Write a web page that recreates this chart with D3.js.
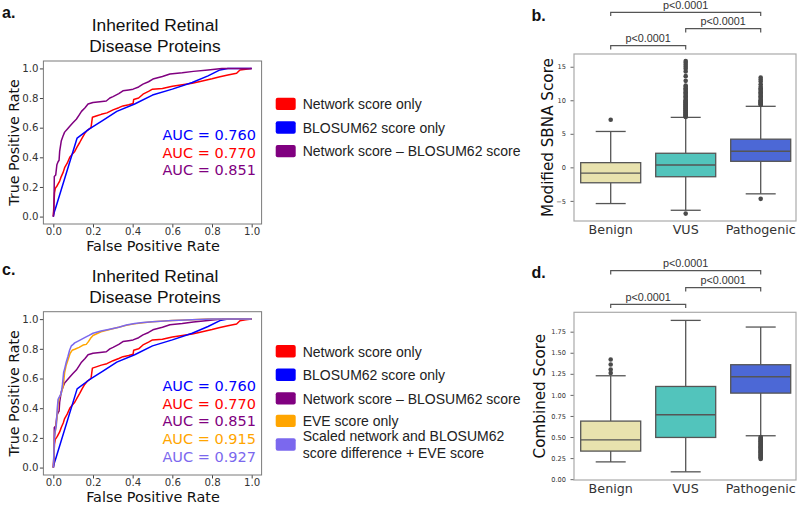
<!DOCTYPE html>
<html>
<head>
<meta charset="utf-8">
<script src="https://cdn.jsdelivr.net/npm/d3@7"></script>
<style>
  body { margin: 0; background: #fff; }
  svg { display: block; }
  .tick-text { font-family: "DejaVu Sans", sans-serif; fill: #333; }
  .axis-title { font-family: "DejaVu Sans", sans-serif; fill: #111; }
  .panel-title { font-family: "Liberation Sans", Arial, sans-serif; font-size: 17.4px; fill: #111; }
  .panel-tag { font-family: "Liberation Sans", Arial, sans-serif; font-size: 16px; font-weight: bold; fill: #111; }
  .legend-text { font-family: "Liberation Sans", Arial, sans-serif; font-size: 14px; fill: #222; }
  .p-text { font-family: "Liberation Sans", Arial, sans-serif; font-size: 10.8px; fill: #333; }
  .auc-text { font-family: "DejaVu Sans", sans-serif; font-size: 14.5px; }
</style>
</head>
<body>
<svg id="fig" width="800" height="505"></svg>
<script>
// ── DATA ────────────────────────────────────────────────────────────────

const rateTicks = [0, 0.2, 0.4, 0.6, 0.8, 1.0];

// ROC curves as [false positive rate, true positive rate]
const networkRoc = [[0,0],[0.003,0.08],[0.006,0.16],[0.01,0.19],[0.02,0.21],[0.032,0.24],[0.04,0.27],[0.05,0.3],[0.057,0.33],[0.07,0.36],[0.083,0.4],[0.095,0.42],[0.108,0.44],[0.12,0.47],[0.133,0.5],[0.145,0.53],[0.158,0.56],[0.17,0.58],[0.19,0.6],[0.197,0.67],[0.22,0.68],[0.242,0.69],[0.27,0.7],[0.301,0.72],[0.33,0.735],[0.351,0.747],[0.38,0.755],[0.402,0.763],[0.405,0.79],[0.43,0.8],[0.452,0.826],[0.48,0.845],[0.5,0.86],[0.55,0.865],[0.6,0.88],[0.65,0.89],[0.7,0.9],[0.74,0.912],[0.8,0.93],[0.84,0.944],[0.88,0.955],[0.924,0.967],[0.941,0.989],[0.97,0.995],[1,1]];
const blosumRoc = [[0,0],[0.005,0.03],[0.012,0.06],[0.12,0.53],[0.18,0.59],[0.25,0.65],[0.32,0.71],[0.41,0.76],[0.5,0.82],[0.6,0.86],[0.7,0.905],[0.78,0.95],[0.84,0.99],[0.88,1],[1,1]];
const diffRoc = [[0,0],[0.003,0.05],[0.005,0.27],[0.012,0.28],[0.018,0.35],[0.024,0.37],[0.029,0.38],[0.032,0.44],[0.04,0.51],[0.048,0.54],[0.057,0.57],[0.07,0.59],[0.083,0.61],[0.1,0.635],[0.116,0.657],[0.13,0.685],[0.142,0.71],[0.16,0.735],[0.175,0.76],[0.2,0.77],[0.235,0.775],[0.267,0.78],[0.285,0.8],[0.301,0.81],[0.33,0.83],[0.351,0.849],[0.38,0.855],[0.402,0.86],[0.43,0.875],[0.452,0.894],[0.48,0.91],[0.502,0.928],[0.55,0.945],[0.588,0.962],[0.65,0.97],[0.706,0.98],[0.78,0.99],[0.85,1],[1,1]];
const eveRoc = [[0,0],[0.003,0.08],[0.006,0.21],[0.012,0.26],[0.018,0.33],[0.024,0.43],[0.03,0.47],[0.04,0.5],[0.05,0.55],[0.057,0.64],[0.065,0.69],[0.075,0.73],[0.085,0.77],[0.095,0.79],[0.108,0.797],[0.13,0.81],[0.15,0.825],[0.166,0.83],[0.178,0.85],[0.19,0.875],[0.2,0.89],[0.24,0.915],[0.284,0.93],[0.33,0.945],[0.368,0.958],[0.41,0.968],[0.452,0.976],[0.5,0.982],[0.6,0.99],[0.7,0.996],[0.78,1],[1,1]];
const combinedRoc = [[0,0],[0.003,0.1],[0.006,0.2],[0.01,0.25],[0.015,0.28],[0.02,0.4],[0.024,0.46],[0.032,0.48],[0.04,0.5],[0.046,0.56],[0.052,0.64],[0.058,0.67],[0.065,0.71],[0.074,0.75],[0.082,0.79],[0.091,0.82],[0.1,0.83],[0.108,0.84],[0.13,0.855],[0.158,0.875],[0.18,0.89],[0.2,0.905],[0.24,0.92],[0.284,0.932],[0.33,0.945],[0.368,0.96],[0.41,0.97],[0.452,0.977],[0.5,0.982],[0.6,0.99],[0.7,0.995],[0.8,1],[1,1]];

const rocLabels = ["Network score only", "BLOSUM62 score only", "Network score \u2013 BLOSUM62 score", "EVE score only", "Scaled network and BLOSUM62|score difference + EVE score"];
const rocColors = ["#ff0000", "#0000ff", "#800080", "#ffa500", "#7b68ee"];
const rocAuc = ["0.770", "0.760", "0.851", "0.915", "0.927"];
const aucOrder = [1, 0, 2, 3, 4]; // order the AUC texts are stacked in

const categories = ["Benign", "VUS", "Pathogenic"];
const boxColors = ["#e8e2ae", "#52c4bc", "#4c68d6"];

// modified SBNA score (panel b)
const sbnaTicks = [-5, 0, 5, 10, 15];
const sbnaLow = [-5.4, -6.4, -3.95];
const sbnaQ1 = [-2.3, -1.4, 0.9];
const sbnaMedian = [-0.85, 0.35, 2.4];
const sbnaQ3 = [0.7, 2.1, 4.2];
const sbnaHigh = [5.35, 7.45, 9.1];
const sbnaOutliers = [
  [7.1],
  [7.5,7.6,7.7,7.8,7.9,8.0,8.1,8.2,8.3,8.4,8.5,8.6,8.7,8.8,8.9,9.0,9.1,9.2,9.3,9.4,9.5,9.6,9.7,9.8,9.9,10.0,10.2,10.4,10.6,10.8,11.0,11.2,11.4,11.6,11.8,12.0,12.2,12.9,13.6,14.3,14.7,15.0,15.3,15.6,15.85,-6.9],
  [9.3,9.4,9.5,9.6,9.7,9.8,9.9,10.0,10.2,10.4,10.6,10.8,11.0,11.2,11.4,11.6,11.8,12.0,12.4,12.8,13.1,13.4,-4.7]
];

// combined score (panel d)
const combTicks = [0, 0.25, 0.5, 0.75, 1.0, 1.25, 1.5, 1.75];
const combLow = [0.205, 0.087, 0.515];
const combQ1 = [0.333, 0.495, 1.021];
const combMedian = [0.467, 0.764, 1.215];
const combQ3 = [0.689, 1.10, 1.358];
const combHigh = [1.227, 1.884, 1.805];
const combOutliers = [
  [1.26, 1.3, 1.36, 1.42],
  [],
  [0.24,0.25,0.26,0.27,0.28,0.29,0.30,0.31,0.32,0.33,0.34,0.35,0.36,0.37,0.38,0.39,0.40,0.41,0.42,0.43,0.44,0.45,0.46,0.47,0.48,0.49,0.50]
];

// significance brackets: [from category, to category]
const brackets = [["Benign", "Pathogenic"], ["VUS", "Pathogenic"], ["Benign", "VUS"]];
const pLabel = "p<0.0001";

// ── DRAWING ─────────────────────────────────────────────────────────────

const svg = d3.select("#fig");

function styleAxis(axisG, fontSize) {
  axisG.select(".domain").remove();
  axisG.selectAll("line").attr("stroke", "#444");
  axisG.selectAll("text").attr("class", "tick-text").attr("font-size", fontSize).attr("fill", "#333");
}

// ROC panel
function drawRoc(top, bottom, curves, titleY, tag, tagY, legendY) {
  const x = d3.scaleLinear().domain([-0.05, 1.05]).range([43.4, 261.6]);
  const y = d3.scaleLinear().domain([-0.05, 1.05]).range([bottom, top]);
  const g = svg.append("g");

  g.append("text").attr("class", "panel-tag").attr("x", 2).attr("y", tagY).text(tag);
  g.append("text").attr("class", "panel-title").attr("x", 155).attr("y", titleY)
    .attr("text-anchor", "middle").text("Inherited Retinal");
  g.append("text").attr("class", "panel-title").attr("x", 155).attr("y", titleY + 21)
    .attr("text-anchor", "middle").text("Disease Proteins");

  const fmt = d3.format(".1f");
  const xa = g.append("g").attr("transform", `translate(0,${bottom})`)
    .call(d3.axisBottom(x).tickValues(rateTicks).tickFormat(fmt).tickSize(3.5).tickPadding(0.5));
  styleAxis(xa, 10.2);
  const ya = g.append("g").attr("transform", "translate(43.4,0)")
    .call(d3.axisLeft(y).tickValues(rateTicks).tickFormat(fmt).tickSize(3.5).tickPadding(1.5));
  styleAxis(ya, 10.2);

  g.append("text").attr("class", "axis-title").attr("font-size", 14.4)
    .attr("x", 153).attr("y", bottom + 26.5).attr("text-anchor", "middle").text("False Positive Rate");
  g.append("text").attr("class", "axis-title").attr("font-size", 14.2)
    .attr("transform", `translate(18.5,${(top + bottom) / 2}) rotate(-90)`)
    .attr("text-anchor", "middle").text("True Positive Rate");

  const line = d3.line().x((d) => x(d[0])).y((d) => y(d[1]));
  curves.forEach((c) => {
    g.append("path").attr("d", line(c.data)).attr("fill", "none")
      .attr("stroke", rocColors[c.idx]).attr("stroke-width", 1.5).attr("stroke-linejoin", "round");
  });

  g.append("rect").attr("x", 43.4).attr("y", top).attr("width", 218.2).attr("height", bottom - top)
    .attr("fill", "none").attr("stroke", "#7a7a7a").attr("stroke-width", 1);

  // AUC texts, stacked from y ≈ 0.52 downwards
  const shown = aucOrder.filter((i) => curves.some((c) => c.idx === i));
  const aucTop = y(0.515);
  shown.forEach((i, k) => {
    g.append("text").attr("class", "auc-text").attr("x", 256).attr("y", aucTop + k * 17.6)
      .attr("text-anchor", "end").attr("fill", rocColors[i]).text(`AUC = ${rocAuc[i]}`);
  });

  // legend
  const lg = g.append("g");
  let yy = legendY;
  curves.map((c) => c.idx).sort().forEach((i) => {
    const lines = rocLabels[i].split("|");
    lg.append("rect").attr("x", 275.7).attr("y", yy - 1).attr("width", 20).attr("height", 12.4)
      .attr("rx", 2).attr("fill", rocColors[i]);
    lines.forEach((t, j) => {
      lg.append("text").attr("class", "legend-text").attr("x", 302.7)
        .attr("y", yy + 10.5 - (lines.length - 1) * 8.5 + j * 17).text(t);
    });
    yy += lines.length > 1 ? 29 : (i === 2 ? 22.5 : 23.6);
  });
}

drawRoc(61, 224, [
  { idx: 0, data: networkRoc },
  { idx: 1, data: blosumRoc },
  { idx: 2, data: diffRoc }
], 30.5, "a.", 18, 98.7);

drawRoc(311.7, 475, [
  { idx: 0, data: networkRoc },
  { idx: 1, data: blosumRoc },
  { idx: 2, data: diffRoc },
  { idx: 3, data: eveRoc },
  { idx: 4, data: combinedRoc }
], 281.7, "c.", 275, 346);

// Box plot panel
function drawBox(top, bottom, domain, ticks, tickFmt, stats, outliers, yTitle, titleX, tag, tagY, bracketTops) {
  const x = d3.scaleBand().domain(categories).range([573.2, 798.2]).padding(0);
  const y = d3.scaleLinear().domain(domain).range([bottom, top]);
  const g = svg.append("g");
  const bw = x.bandwidth();
  const cx = (c) => x(c) + bw / 2;

  g.append("text").attr("class", "panel-tag").attr("x", 531.5).attr("y", tagY).text(tag);

  const ya = g.append("g").attr("transform", "translate(574,0)")
    .call(d3.axisLeft(y).tickValues(ticks).tickFormat(tickFmt).tickSize(3.5).tickPadding(4.5));
  styleAxis(ya, 6.6);
  ya.selectAll("line").attr("stroke", "#666");
  const xa = g.append("g").attr("transform", `translate(0,${bottom})`)
    .call(d3.axisBottom(x).tickSize(0).tickPadding(4));
  styleAxis(xa, 12.7);
  xa.selectAll("text").attr("fill", "#222");

  g.append("text").attr("class", "axis-title").attr("font-size", 15.2)
    .attr("transform", `translate(${titleX},${(top + bottom) / 2}) rotate(-90)`)
    .attr("text-anchor", "middle").text(yTitle);

  const line = "#555";
  categories.forEach((c, i) => {
    const c0 = cx(c);
    const half = bw * 0.4;
    // whiskers
    g.append("line").attr("x1", c0).attr("x2", c0).attr("y1", y(stats.low[i])).attr("y2", y(stats.q1[i]))
      .attr("stroke", line).attr("stroke-width", 1.3);
    g.append("line").attr("x1", c0).attr("x2", c0).attr("y1", y(stats.q3[i])).attr("y2", y(stats.high[i]))
      .attr("stroke", line).attr("stroke-width", 1.3);
    [stats.low[i], stats.high[i]].forEach((v) => {
      g.append("line").attr("x1", c0 - half / 2).attr("x2", c0 + half / 2).attr("y1", y(v)).attr("y2", y(v))
        .attr("stroke", line).attr("stroke-width", 1.3);
    });
    g.append("rect").attr("x", c0 - half).attr("width", half * 2)
      .attr("y", y(stats.q3[i])).attr("height", y(stats.q1[i]) - y(stats.q3[i]))
      .attr("fill", boxColors[i]).attr("stroke", line).attr("stroke-width", 1.3);
    g.append("line").attr("x1", c0 - half).attr("x2", c0 + half)
      .attr("y1", y(stats.median[i])).attr("y2", y(stats.median[i]))
      .attr("stroke", line).attr("stroke-width", 1.3);
    g.selectAll(null).data(outliers[i]).join("circle")
      .attr("cx", c0).attr("cy", (d) => y(d)).attr("r", 2.3).attr("fill", "#4a4a4a");
  });

  g.append("rect").attr("x", 574).attr("y", top).attr("width", 222).attr("height", bottom - top)
    .attr("fill", "none").attr("stroke", "#aaa").attr("stroke-width", 1.2);

  // significance brackets
  brackets.forEach((b, k) => {
    const by = bracketTops[k];
    const x1 = cx(b[0]), x2 = cx(b[1]);
    g.append("path").attr("d", `M${x1},${by + 3.7}V${by}H${x2}V${by + 3.7}`)
      .attr("fill", "none").attr("stroke", "#555").attr("stroke-width", 1.2);
    g.append("text").attr("class", "p-text").attr("x", (x1 + x2) / 2).attr("y", by - 3.4)
      .attr("text-anchor", "middle").text(pLabel);
  });
}

const minusFmt = (d) => (d < 0 ? "\u2212" + Math.abs(d) : String(d));

drawBox(54, 221, [-8.0, 16.9], sbnaTicks, minusFmt,
  { low: sbnaLow, q1: sbnaQ1, median: sbnaMedian, q3: sbnaQ3, high: sbnaHigh },
  sbnaOutliers, "Modified SBNA Score", 553, "b.", 20.5, [12.3, 28.7, 45.7]);

drawBox(312.3, 480, [-0.01, 1.98], combTicks, d3.format(".2f"),
  { low: combLow, q1: combQ1, median: combMedian, q3: combQ3, high: combHigh },
  combOutliers, "Combined Score", 545, "d.", 278.3, [270.7, 287.7, 304.3]);
</script>
</body>
</html>
